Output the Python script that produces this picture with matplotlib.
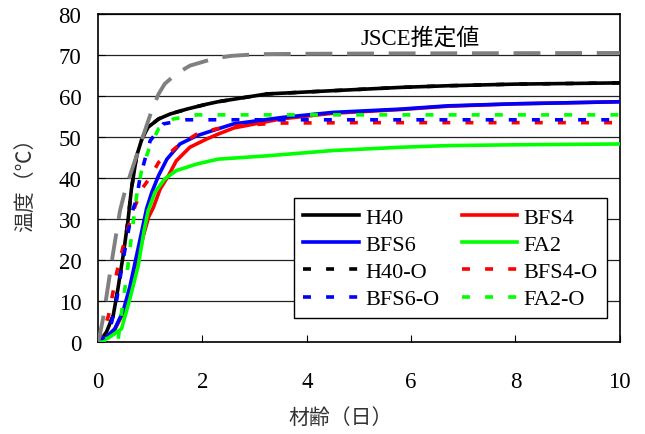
import matplotlib
matplotlib.use("Agg")
import matplotlib.pyplot as plt

# Familias: Times-like para el latin, CJK como respaldo
plt.rcParams['font.family'] = ['Liberation Serif', 'Noto Sans CJK JP']
plt.rcParams['axes.unicode_minus'] = False

# ---- Datos (dias, temperatura) ----
h40_dias = [0, 0.06, 0.16, 0.29, 0.38, 0.48, 0.57, 0.64, 0.68, 0.74, 0.84, 0.96, 1.16, 1.38, 1.7, 2.08, 2.3,
            3.23, 4.5, 5.8, 6.7, 8, 10]
h40_temp = [0, 0.7, 2.4, 6.4, 12.9, 21, 29.2, 37.3, 40.6, 45.4, 49.5, 52.4, 54.4, 55.6, 56.8, 58, 58.6,
            60.5, 61.3, 62.1, 62.5, 62.9, 63.2]

bfs4_dias = [0, 0.16, 0.32, 0.5, 0.63, 0.75, 0.87, 0.97, 1.06, 1.19, 1.35, 1.5, 1.76, 2.08, 2.3, 2.6, 3.5,
             4.5, 5.8, 6.7, 8, 10]
bfs4_temp = [0, 1, 3, 7.5, 13, 19.5, 26, 30.5, 32.8, 37.3, 40.6, 44.2, 47.5, 49.5, 50.7, 52.2, 54.4,
             55.8, 56.7, 57.5, 58.1, 58.6]

bfs6_dias = [0, 0.16, 0.32, 0.48, 0.61, 0.72, 0.83, 0.93, 1.03, 1.16, 1.32, 1.57, 1.89, 2.3, 2.6, 3.55,
             4.5, 5.8, 6.7, 8, 10]
bfs6_temp = [0, 1.2, 3.2, 7.5, 13.5, 20, 26.5, 32.5, 36.5, 40.6, 44.6, 48.3, 50.3, 52, 53.2, 54.8,
             56, 56.8, 57.6, 58.1, 58.6]

fa2_dias = [0, 0.2, 0.45, 0.61, 0.77, 0.88, 0.96, 1.09, 1.28, 1.5, 1.89, 2.3, 3.23, 4.5, 5.8, 6.7, 8, 10]
fa2_temp = [0, 1, 3.2, 10.5, 18.6, 27, 32, 36.5, 39.8, 41.8, 43.4, 44.6, 45.4, 46.7, 47.5, 47.9, 48.1, 48.3]

h40o_dias = h40_dias
h40o_temp = h40_temp

bfs4o_dias = [0, 0.1, 0.2, 0.36, 0.47, 0.58, 0.71, 0.85, 1.0, 1.16, 1.5, 1.89, 2.27, 2.8, 3.5, 5, 10]
bfs4o_temp = [0, 2.5, 6.4, 17, 22.7, 28, 33.2, 37.5, 40.2, 43.8, 47.5, 50.7, 52, 52.9, 53.4, 53.5, 53.5]

bfs6o_dias = [0, 0.15, 0.26, 0.36, 0.45, 0.55, 0.65, 0.74, 0.8, 0.9, 1.0, 1.25, 1.7, 3, 10]
bfs6o_temp = [0, 1.5, 4.8, 10.5, 17.8, 25, 31.6, 34.9, 39.8, 44.6, 49.1, 53.2, 54.2, 54.2, 54.2]

fa2o_dias = [0, 0.38, 0.45, 0.55, 0.65, 0.74, 0.84, 1.0, 1.16, 1.44, 1.89, 3, 10]
fa2o_temp = [0, 0, 7.2, 16.2, 26.8, 35.7, 42.2, 47.9, 52, 54.4, 55.4, 55.4, 55.4]

jsce_dias = [0, 0.03, 0.1, 0.16, 0.22, 0.28, 0.35, 0.42, 0.52, 0.61, 0.74, 0.87, 1.03, 1.16, 1.28, 1.5,
             1.76, 2.24, 2.56, 3.07, 4, 6, 10]
jsce_temp = [0, 1.5, 6, 11, 16, 21, 26.5, 32, 37, 40.5, 45.5, 50.5, 56.5, 60.5, 63, 65.4,
             67.4, 69.2, 69.8, 70.2, 70.3, 70.4, 70.5]

x_ticks = [0, 2, 4, 6, 8, 10]
y_ticks = [0, 10, 20, 30, 40, 50, 60, 70, 80]

fig = plt.figure(figsize=(6.45, 4.35), dpi=100)
ax = fig.add_axes([0.152, 0.2115, 0.809, 0.754])

# Curvas medidas (continuas) y analisis (discontinuas)
guion = (2.2, 4.2)
ax.plot(h40o_dias, h40o_temp, color='black', lw=2.6, dashes=guion, label='H40-O', zorder=2)
ax.plot(h40_dias, h40_temp, color='black', lw=2.6, label='H40', zorder=3)
ax.plot(bfs4_dias, bfs4_temp, color='#ff0000', lw=2.6, label='BFS4', zorder=3)
ax.plot(bfs6_dias, bfs6_temp, color='#0000ff', lw=2.6, label='BFS6', zorder=3)
ax.plot(fa2_dias, fa2_temp, color='#00ff00', lw=2.6, label='FA2', zorder=3)
ax.plot(bfs4o_dias, bfs4o_temp, color='#ff0000', lw=2.6, dashes=guion, label='BFS4-O', zorder=4)
ax.plot(bfs6o_dias, bfs6o_temp, color='#0000ff', lw=2.6, dashes=guion, label='BFS6-O', zorder=4)
ax.plot(fa2o_dias, fa2o_temp, color='#00ff00', lw=2.6, dashes=guion, label='FA2-O', zorder=4)
ax.plot(jsce_dias, jsce_temp, color='#808080', lw=2.8, dashes=(6.9, 3.8), zorder=4)

ax.text(6.17, 74.2, 'JSCE推定値', fontsize=16.5, ha='center', va='center')

ax.set_xlim(0, 10)
ax.set_ylim(0, 80)
ax.set_xticks(x_ticks)
ax.set_yticks(y_ticks)
ax.tick_params(axis='both', direction='in', length=5, labelsize=16.5)
ax.tick_params(axis='x', pad=21)
ax.tick_params(axis='y', pad=12)
ax.grid(axis='y', color='#222222', lw=0.9)
for sp in ax.spines.values():
    sp.set_linewidth(1.2)

# Leyenda en dos columnas, orden como en la figura
handles, labels = ax.get_legend_handles_labels()
orden = ['H40', 'BFS4', 'BFS6', 'FA2', 'H40-O', 'BFS4-O', 'BFS6-O', 'FA2-O']
mapa = dict(zip(labels, handles))
# ncol=2 rellena por columnas: reordenar para que las filas queden como en el original
orden_col = orden[0::2] + orden[1::2]
leg = ax.legend([mapa[k] for k in orden_col], orden_col, ncol=2, loc='lower right',
                bbox_to_anchor=(0.975, 0.072), fontsize=16, frameon=True, fancybox=False,
                framealpha=1, edgecolor='black', handlelength=2.5, handletextpad=0.3,
                columnspacing=1.0, labelspacing=0.3, borderpad=0.4, borderaxespad=0)
leg.get_frame().set_linewidth(1.0)

fig.text(341 / 645, 1 - 419 / 435, '材齢（日）', fontsize=15, ha='center', va='center', color='#333333')
fig.text(26 / 645, 1 - 180 / 435, '温度（℃）', fontsize=15, ha='center', va='center', rotation=90, color='#333333')

fig.savefig('out.png', dpi=100)
